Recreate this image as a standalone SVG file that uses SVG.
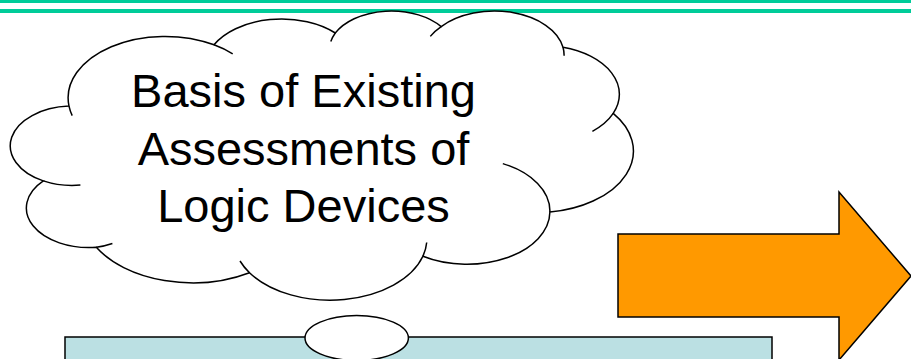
<svg xmlns="http://www.w3.org/2000/svg" width="911" height="359" viewBox="0 0 911 359">
  <style>
    .rule { fill: #00CC99; }
    .outline { stroke: #000000; stroke-width: 1.5; stroke-linejoin: miter; }
    .cloud-body { fill: #FFFFFF; }
    .cloud-tail { fill: none; stroke: #000000; stroke-width: 1.5; }
    .label { font-family: "Liberation Sans", Arial, sans-serif; font-size: 47px; fill: #000000; text-anchor: middle; }
  </style>

  <rect width="911" height="359" fill="#FFFFFF"/>

  <!-- double rule across the top -->
  <g id="header-rules">
    <rect class="rule" x="0" y="0" width="911" height="3"/>
    <rect class="rule" x="0" y="9" width="911" height="4"/>
  </g>

  <!-- light blue panel along the bottom -->
  <g id="panel">
    <rect class="outline" x="65" y="337" width="707" height="40" fill="#BBE0E3"/>
  </g>

  <!-- thought cloud with its text -->
  <g id="cloud">
    <path class="outline cloud-body" d="M69.0,106.1 A96.92,61.48 0 0 1 214.0,44.8 A76.54,48.62 0 0 1 335.3,33.0 A62.65,39.77 0 0 1 441.2,26.6 A69.71,44.12 0 0 1 563.0,47.3 A76.54,48.66 0 0 1 613.2,113.4 A97.24,61.68 0 0 1 549.9,212.1 A83.03,52.63 0 0 1 422.9,256.3 A96.90,61.65 0 0 1 249.5,272.7 A110.80,70.53 0 0 1 96.3,247.3 A62.57,39.59 0 0 1 43.3,180.9 A62.36,39.77 0 0 1 69.0,106.1 Z"/>
    <path class="cloud-tail" d="M72.2,115.6 A96.92,61.48 0 0 1 69.0,106.1
      M214.0,44.8 A96.92,61.48 0 0 1 232.7,53.8
      M330.8,41.6 A62.65,39.77 0 0 1 335.3,33.0
      M430.3,36.4 A69.71,44.12 0 0 1 441.2,26.6
      M563.0,47.3 A69.71,44.12 0 0 1 564.1,55.8
      M613.2,113.4 A76.54,48.66 0 0 1 592.4,131.3
      M502.8,163.6 A83.03,52.63 0 0 1 549.9,212.1
      M426.7,242.5 A96.90,61.65 0 0 1 422.9,256.3
      M249.5,272.7 A96.90,61.65 0 0 1 240.0,261.0
      M112.4,243.5 A62.57,39.59 0 0 1 96.3,247.3
      M80.4,185.1 A62.36,39.77 0 0 1 43.3,180.9"/>
    <text class="label" x="303.5" y="107">Basis of Existing</text>
    <text class="label" x="303.5" y="164.5">Assessments of</text>
    <text class="label" x="303.5" y="222">Logic Devices</text>
  </g>

  <!-- small bubble of the cloud, sitting on the panel edge -->
  <g id="cloud-bubble">
    <ellipse class="outline cloud-body" cx="356.7" cy="338" rx="51.7" ry="22.5"/>
  </g>

  <!-- orange block arrow pointing right -->
  <g id="arrow">
    <polygon class="outline" fill="#FF9900" points="618,234 839,234 839,192 911,276 839,360 839,317 618,317"/>
  </g>

  <g id="connectors"/>
</svg>
